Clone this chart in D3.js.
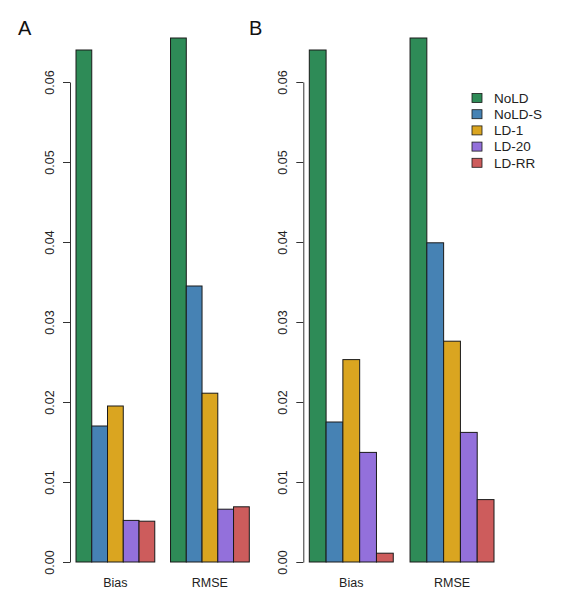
<!DOCTYPE html>
<html><head><meta charset="utf-8">
<script src="https://cdn.jsdelivr.net/npm/d3@7"></script>
<style>body{margin:0;background:#fff}svg{display:block;font-family:"Liberation Sans",Arial,sans-serif}</style>
</head><body>
<svg id="c" width="565" height="601"></svg>
<script>
const categories = ["Bias", "RMSE"];
const methods = ["NoLD", "NoLD-S", "LD-1", "LD-20", "LD-RR"];
const colors = ["#2e8b57", "#4682b4", "#daa520", "#9370db", "#cd5c5c"];
const panelA = {
  "Bias": [0.0640, 0.0170, 0.0195, 0.0052, 0.0051],
  "RMSE": [0.0655, 0.0345, 0.0211, 0.0066, 0.0069]
};
const panelB = {
  "Bias": [0.0640, 0.0175, 0.0253, 0.0137, 0.0011],
  "RMSE": [0.0655, 0.0399, 0.0276, 0.0162, 0.0078]
};
const yTicks = [0, 0.01, 0.02, 0.03, 0.04, 0.05, 0.06];

const svg = d3.select("#c");
const y = d3.scaleLinear().domain([0, 0.06]).range([562, 82]);

function panel(data, axisX, x0, x1, letter, letterX) {
  const g = svg.append("g");
  const xg = d3.scaleBand().domain(categories).range([x0, x1]).paddingInner(1/6).paddingOuter(0);
  const xs = d3.scaleBand().domain(methods).range([0, xg.bandwidth()]);
  categories.forEach(cat => {
    g.selectAll(null).data(data[cat]).enter().append("rect")
      .attr("x", (d, i) => xg(cat) + xs(methods[i]))
      .attr("y", d => y(d))
      .attr("width", xs.bandwidth())
      .attr("height", d => y(0) - y(d))
      .attr("fill", (d, i) => colors[i])
      .attr("stroke", "#1a1a1a").attr("stroke-width", 1);
    g.append("text").attr("x", xg(cat) + xg.bandwidth() / 2).attr("y", 587)
      .attr("text-anchor", "middle").attr("font-size", 12.5).attr("fill", "#222").text(cat);
  });
  const ax = g.append("g").attr("transform", `translate(${axisX},0)`)
    .call(d3.axisLeft(y).tickValues(yTicks).tickFormat(d3.format(".2f")).tickSize(7).tickSizeOuter(0));
  ax.select(".domain").attr("stroke", "#333");
  ax.selectAll(".tick line").attr("stroke", "#333");
  ax.selectAll(".tick text").attr("x", null).attr("dy", null)
    .attr("transform", "translate(-16,0) rotate(-90)")
    .attr("text-anchor", "middle").attr("font-size", 12.5).attr("fill", "#222")
    .attr("font-family", "Liberation Sans, Arial, sans-serif");
  svg.append("text").attr("x", letterX).attr("y", 35).attr("font-size", 20).attr("fill", "#111").text(letter);
}

panel(panelA, 70, 76, 249.3, "A", 18);
panel(panelB, 303.3, 309.3, 494, "B", 249);

const leg = svg.append("g");
methods.forEach((m, i) => {
  const yy = 98 + i * 16.2;
  leg.append("rect").attr("x", 472).attr("y", yy - 4.5).attr("width", 10).attr("height", 9)
    .attr("fill", colors[i]).attr("stroke", "#1a1a1a").attr("stroke-width", 0.8);
  leg.append("text").attr("x", 494).attr("y", yy).attr("dy", "0.35em")
    .attr("font-size", 13.5).attr("fill", "#222").text(m);
});
</script>
</body></html>
